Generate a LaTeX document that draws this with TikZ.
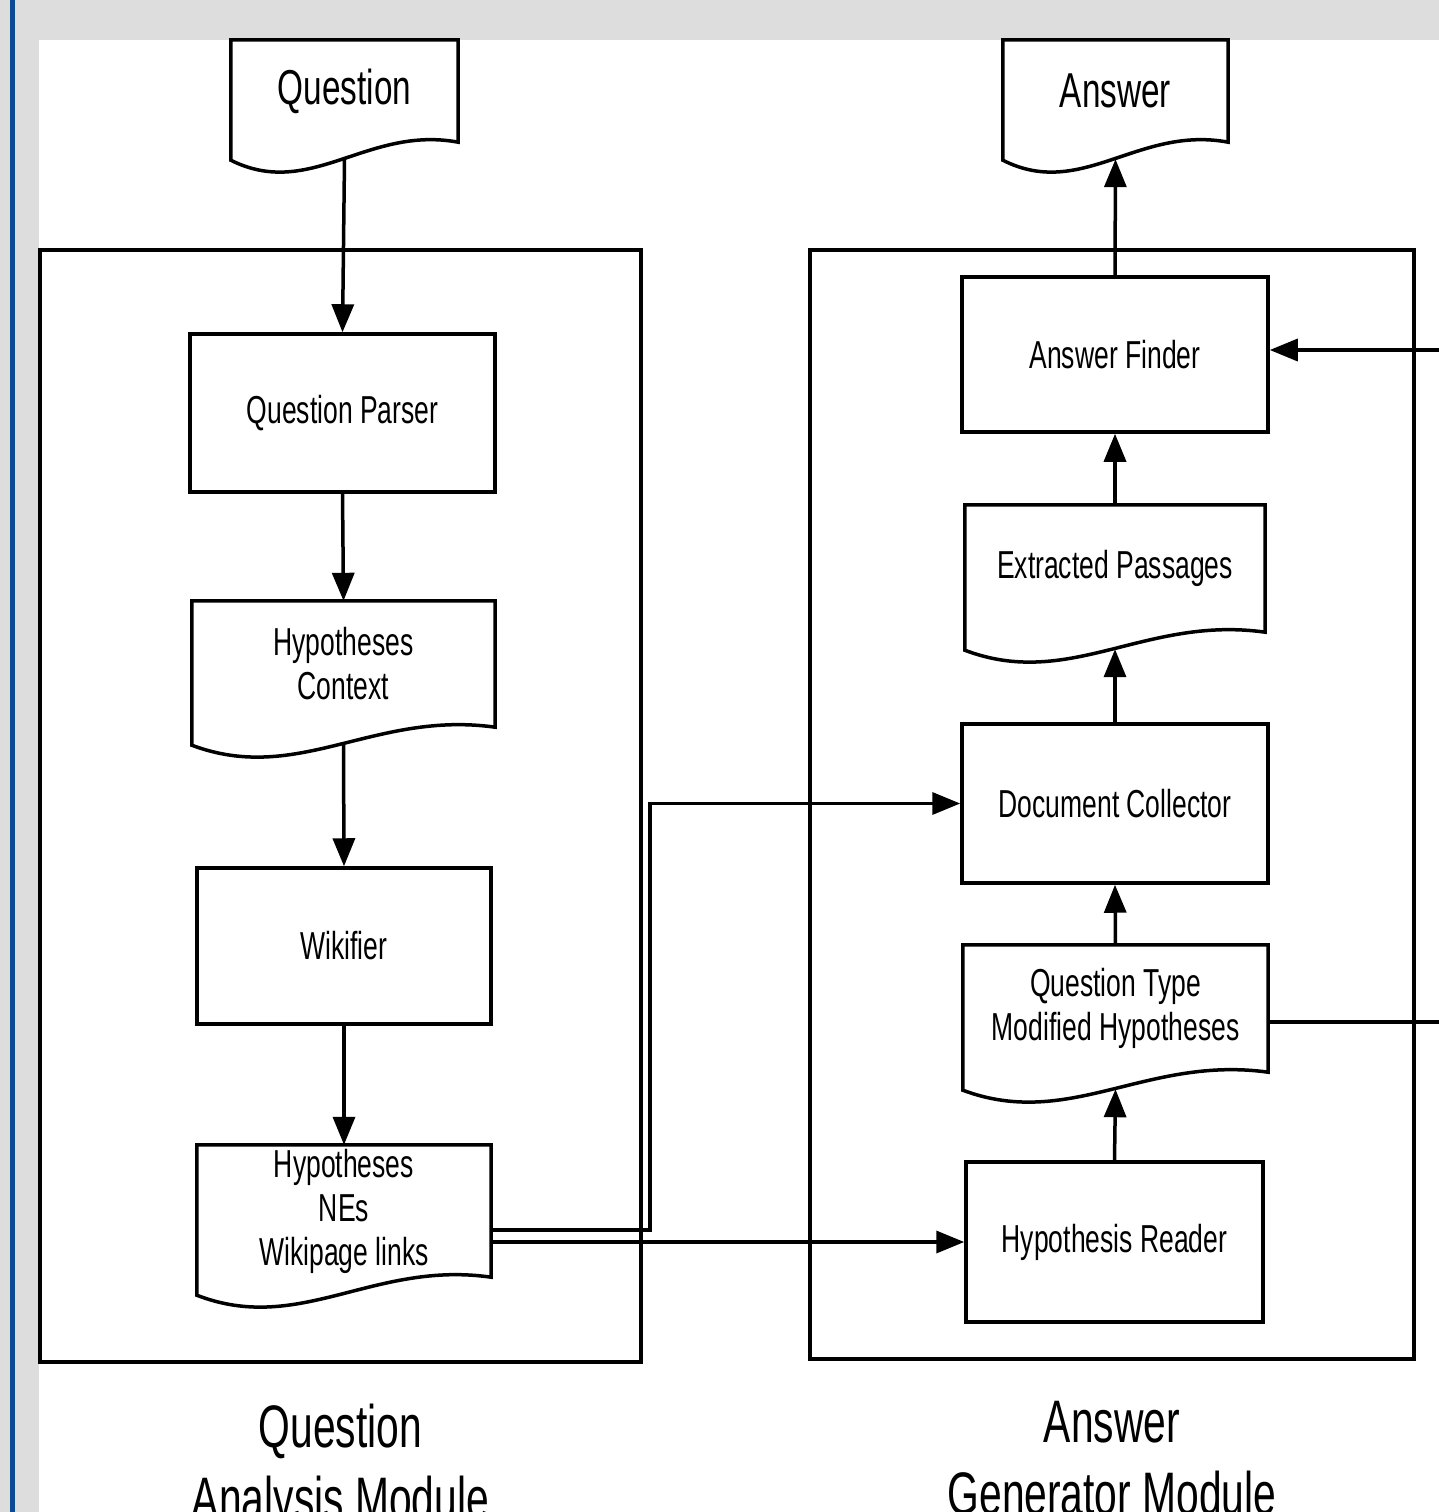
\documentclass[tikz,border=0pt]{standalone}
\usepackage{fontspec}
\setmainfont{Liberation Sans}[FakeStretch=0.68]
\usetikzlibrary{arrows.meta,calc,positioning}
\definecolor{bggray}{RGB}{221,221,221}
\definecolor{edgeblue}{RGB}{10,76,145}
\tikzset{
  procbox/.style={draw, line width=3.5pt, inner sep=0pt, align=center, font=\fontsize{39}{44}\selectfont},
  docbox/.style={inner sep=0pt, align=center, font=\fontsize{39}{44}\selectfont},
  enddoc/.style={inner sep=0pt, font=\fontsize{49}{56}\selectfont},
  modbox/.style={draw, line width=3.5pt, inner sep=0pt},
  modlabel/.style={inner sep=0pt, align=center, font=\fontsize{60}{72}\selectfont},
  flow/.style={line width=3.5pt, -{Triangle[length=28pt,width=22pt]}},
  link/.style={line width=3.5pt}
}
\newcommand{\docwave}[1]{%
  \draw[line width=3.5pt] (#1.north west) -- (#1.north east) -- (#1.south east)
    .. controls ($(#1.south west)!0.6!(#1.south east)+(0,-17)$)
    and ($(#1.south west)!0.35!(#1.south east)+(0,58)$) ..
    ($(#1.south west)+(0,18)$) -- cycle;}
\begin{document}
\begin{tikzpicture}[x=1pt,y=-1pt]
\useasboundingbox (0,0) rectangle (1439,1512);
\fill[bggray] (0,0) rectangle (1439,1512);
\fill[white] (39,40) rectangle (1439,1512);
\fill[edgeblue] (9.5,0) rectangle (15,1512);

\node[modbox, minimum width=601pt, minimum height=1112pt] (qmod) at (340.5,806) {};
\node[modbox, minimum width=604pt, minimum height=1109pt] (amod) at (1112,804.5) {};
\node[modlabel, below=40pt of qmod] (qmodlabel) {Question\\Analysis Module};
\node[modlabel, below=40pt of amod] (amodlabel) {Answer\\Generator Module};

\node[enddoc, minimum width=227pt, minimum height=102pt] (qdoc) at (344.5,91) {Question};
\docwave{qdoc}
\node[procbox, minimum width=305pt, minimum height=158pt] (qparser) at (342.5,413) {Question Parser};
\node[docbox, minimum width=303pt, minimum height=126pt] (hctx) at (343.5,664) {Hypotheses\\Context};
\docwave{hctx}
\node[procbox, minimum width=294pt, minimum height=156pt] (wikifier) at (344,946) {Wikifier};
\node[docbox, minimum width=294pt, minimum height=132pt] (hnes) at (344,1211) {Hypotheses\\NEs\\Wikipage links};
\docwave{hnes}

\node[enddoc, minimum width=225pt, minimum height=102pt] (adoc) at (1115.5,91) {Answer};
\docwave{adoc}
\node[procbox, minimum width=306pt, minimum height=155pt] (afinder) at (1115,354.5) {Answer Finder};
\node[docbox, minimum width=300pt, minimum height=127pt] (epass) at (1115,568.5) {Extracted Passages};
\docwave{epass}
\node[procbox, minimum width=306pt, minimum height=159pt] (dcoll) at (1115,803.5) {Document Collector};
\node[docbox, minimum width=305pt, minimum height=127pt] (qtype) at (1115.5,1008.5) {Question Type\\Modified Hypotheses};
\docwave{qtype}
\node[procbox, minimum width=297pt, minimum height=160pt] (hreader) at (1114.5,1242) {Hypothesis Reader};
\coordinate (afin) at (1439,350);
\coordinate (qtout) at (1439,1022);

\draw[flow] ($(qdoc.south)+(0,17)$) -- (qparser.north);
\draw[flow] (qparser.south) -- (hctx.north);
\draw[flow] ($(hctx.south)+(0,17)$) -- (wikifier.north);
\draw[flow] (wikifier.south) -- (hnes.north);
\draw[flow] ($(hnes.east)+(0,19)$) -- ++(159,0) |- (dcoll.west);
\draw[flow] ($(hnes.east)+(0,31)$) -- (hreader.west);
\draw[flow] (hreader.north) -- ($(qtype.south)+(0,17)$);
\draw[flow] (qtype.north) -- (dcoll.south);
\draw[flow] (dcoll.north) -- ($(epass.south)+(0,17)$);
\draw[flow] (epass.north) -- (afinder.south);
\draw[flow] (afinder.north) -- ($(adoc.south)+(0,17)$);
\draw[link] ($(qtype.east)+(0,13.5)$) -- (qtout);
\draw[flow] (afin) -- (afin -| afinder.east);
\end{tikzpicture}
\end{document}
